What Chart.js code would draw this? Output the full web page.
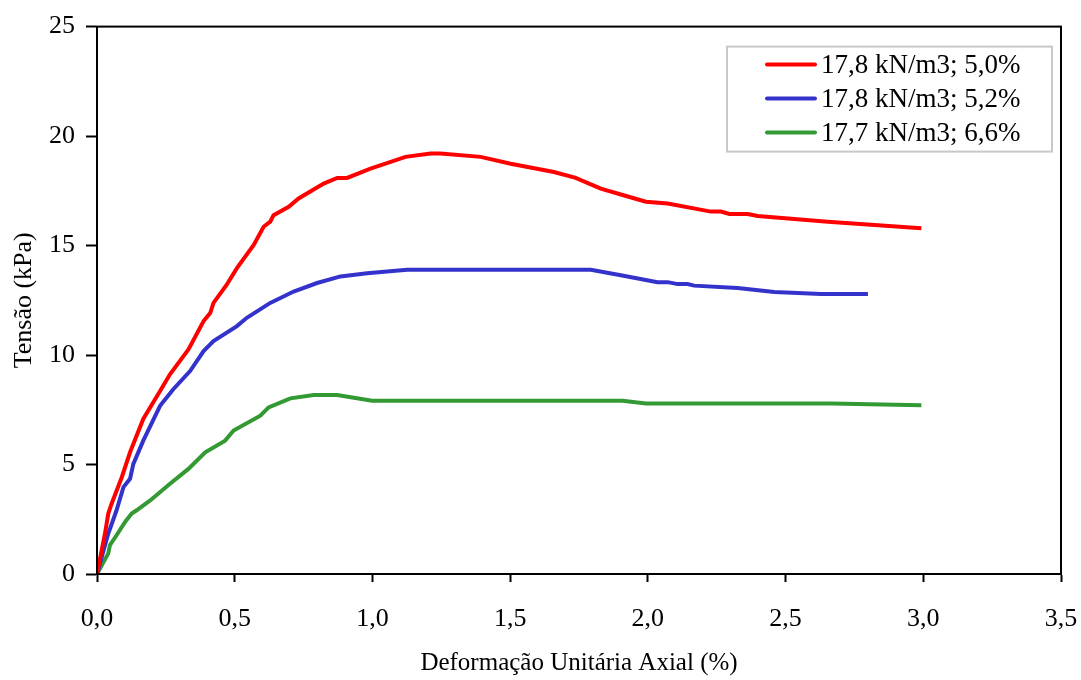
<!DOCTYPE html>
<html>
<head>
<meta charset="utf-8">
<title>Tensão x Deformação</title>
<script src="https://cdn.jsdelivr.net/npm/chart.js@4/dist/chart.umd.min.js"></script>
<style>
  html, body { margin: 0; padding: 0; background: #fff; }
  #chart { display: block; }
</style>
</head>
<body>
<canvas id="chart" width="1081" height="680"></canvas>
<script>
// Series labels
const seriesLabels = ['17,8 kN/m3; 5,0%', '17,8 kN/m3; 5,2%', '17,7 kN/m3; 6,6%'];
const seriesColors = ['#ff0000', '#3333cc', '#339933'];

// 17,8 kN/m3; 5,0%
const redStrain = [0, 0.029, 0.041, 0.053, 0.09, 0.12, 0.168, 0.229, 0.265, 0.332, 0.387, 0.411, 0.423, 0.471, 0.508, 0.569, 0.605, 0.629, 0.641, 0.696, 0.732, 0.823, 0.872, 0.908, 0.993, 1.12, 1.211, 1.247, 1.393, 1.502, 1.659, 1.738, 1.829, 1.902, 1.993, 2.072, 2.229, 2.265, 2.296, 2.362, 2.399, 2.653, 2.993];
const redStress = [0, 1.85, 2.76, 3.21, 4.42, 5.56, 7.08, 8.36, 9.12, 10.26, 11.55, 11.92, 12.38, 13.21, 13.97, 15.03, 15.86, 16.09, 16.39, 16.77, 17.15, 17.83, 18.09, 18.09, 18.51, 19.05, 19.2, 19.2, 19.05, 18.74, 18.36, 18.09, 17.6, 17.33, 17.0, 16.92, 16.55, 16.55, 16.44, 16.44, 16.35, 16.09, 15.79];

// 17,8 kN/m3; 5,2%
const blueStrain = [0, 0.041, 0.071, 0.096, 0.12, 0.132, 0.168, 0.229, 0.277, 0.338, 0.387, 0.423, 0.508, 0.544, 0.629, 0.714, 0.799, 0.884, 0.981, 1.126, 1.429, 1.793, 1.902, 2.035, 2.072, 2.108, 2.144, 2.168, 2.326, 2.459, 2.629, 2.799];
const blueStress = [0, 1.85, 2.91, 3.97, 4.35, 5.03, 6.09, 7.68, 8.44, 9.27, 10.18, 10.64, 11.32, 11.7, 12.38, 12.9, 13.29, 13.59, 13.74, 13.89, 13.89, 13.89, 13.64, 13.33, 13.33, 13.24, 13.24, 13.17, 13.06, 12.88, 12.79, 12.79];

// 17,7 kN/m3; 6,6%
const greenStrain = [0, 0.041, 0.047, 0.071, 0.102, 0.126, 0.144, 0.193, 0.265, 0.332, 0.393, 0.465, 0.496, 0.593, 0.623, 0.702, 0.787, 0.872, 0.999, 1.429, 1.908, 1.993, 2.665, 2.993];
const greenStress = [0, 0.94, 1.32, 1.77, 2.38, 2.76, 2.91, 3.36, 4.12, 4.80, 5.56, 6.09, 6.55, 7.23, 7.61, 8.02, 8.17, 8.17, 7.91, 7.91, 7.91, 7.79, 7.79, 7.71];

// Axis ticks
const xTicks = [0, 0.5, 1.0, 1.5, 2.0, 2.5, 3.0, 3.5];
const yTicks = [0, 5, 10, 15, 20, 25];

const FONT = "'Liberation Serif', 'Times New Roman', serif";

function toPoints(xs, ys) {
    return xs.map((x, i) => ({ x: x, y: ys[i] }));
}

const seriesData = [
    toPoints(redStrain, redStress),
    toPoints(blueStrain, blueStress),
    toPoints(greenStrain, greenStress)
];

/**
 * Draws the frame round the plot area
 */
const frameBox = {
    id: 'frameBox',
    afterDraw(chart) {
        const { ctx, chartArea } = chart;
        ctx.save();
        ctx.strokeStyle = '#000';
        ctx.lineWidth = 2;
        ctx.strokeRect(chartArea.left, chartArea.top, chartArea.right - chartArea.left, chartArea.bottom - chartArea.top);
        ctx.restore();
    }
};

/**
 * Legend box inside the plot area (top right)
 */
const insideLegend = {
    id: 'insideLegend',
    afterDraw(chart) {
        const { ctx, chartArea } = chart;
        const boxW = 325, boxH = 105;
        const left = chartArea.right - 334;
        const top = chartArea.top + 20;
        ctx.save();
        ctx.fillStyle = '#fff';
        ctx.fillRect(left, top, boxW, boxH);
        ctx.strokeStyle = '#c8c8c8';
        ctx.lineWidth = 2;
        ctx.strokeRect(left, top, boxW, boxH);
        ctx.font = '27px ' + FONT;
        ctx.textBaseline = 'middle';
        chart.data.datasets.forEach((ds, i) => {
            const y = top + 18 + i * 34;
            ctx.strokeStyle = ds.borderColor;
            ctx.lineWidth = 4;
            ctx.lineCap = 'round';
            ctx.beginPath();
            ctx.moveTo(left + 40, y);
            ctx.lineTo(left + 88, y);
            ctx.stroke();
            ctx.fillStyle = '#000';
            ctx.fillText(ds.label, left + 94, y + 1);
        });
        ctx.restore();
    }
};

const ctx = document.getElementById('chart');

new Chart(ctx, {
    type: 'scatter',
    data: {
        datasets: seriesLabels.map((label, i) => ({
            label: label,
            data: seriesData[i],
            showLine: true,
            borderColor: seriesColors[i],
            backgroundColor: seriesColors[i],
            borderWidth: 4,
            pointRadius: 0,
            tension: 0
        }))
    },
    options: {
        responsive: false,
        animation: false,
        layout: { padding: { top: 20, right: 20, left: 0, bottom: 0 } },
        plugins: {
            legend: { display: false },
            tooltip: { enabled: false }
        },
        scales: {
            x: {
                type: 'linear',
                min: 0,
                max: 3.5,
                afterFit(scale) {
                    scale.height = 106;
                    scale.paddingRight = 0;
                },
                afterBuildTicks(scale) { scale.ticks = xTicks.map(v => ({ value: v })); },
                grid: { drawOnChartArea: false, tickLength: 8, tickColor: '#000', tickWidth: 2 },
                border: { color: '#000', width: 2 },
                ticks: {
                    color: '#000',
                    padding: 22,
                    font: { family: FONT, size: 26 },
                    callback: v => v.toFixed(1).replace('.', ',')
                },
                title: {
                    display: true,
                    text: 'Deformação Unitária Axial (%)',
                    color: '#000',
                    font: { family: FONT, size: 25 },
                    padding: { top: 0, bottom: 2 }
                }
            },
            y: {
                type: 'linear',
                min: 0,
                max: 25,
                afterFit(scale) { scale.width = 97; },
                afterBuildTicks(scale) { scale.ticks = yTicks.map(v => ({ value: v })); },
                grid: { drawOnChartArea: false, tickLength: 11, tickColor: '#000', tickWidth: 2 },
                border: { color: '#000', width: 2 },
                ticks: {
                    color: '#000',
                    padding: 11,
                    font: { family: FONT, size: 26 },
                    callback: v => String(v)
                },
                title: {
                    display: true,
                    text: 'Tensão (kPa)',
                    color: '#000',
                    font: { family: FONT, size: 26 },
                    padding: { top: 9, bottom: 0 }
                }
            }
        }
    },
    plugins: [frameBox, insideLegend]
});
</script>
</body>
</html>
